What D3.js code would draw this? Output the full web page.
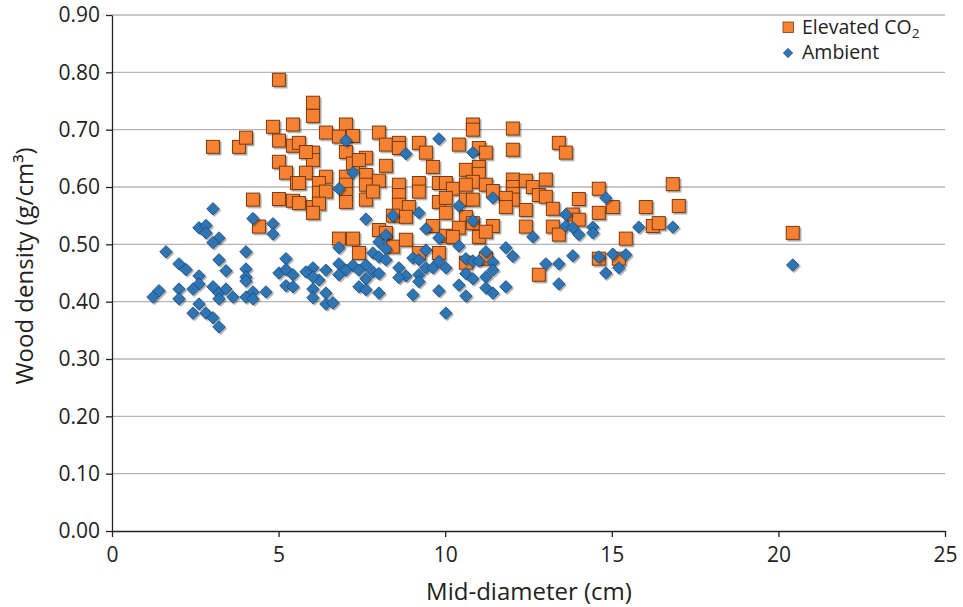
<!DOCTYPE html>
<html>
<head>
<meta charset="utf-8">
<script src="https://cdn.jsdelivr.net/npm/d3@7"></script>
<style>
  body { margin: 0; background: #fff; }
  svg { font-family: "Open Sans", sans-serif; }
</style>
</head>
<body>
<svg id="chart" width="963" height="607"></svg>
<script>
// [mid-diameter (cm), wood density (g/cm3)]
const elevated = [
  [3.03,0.670],[3.81,0.670],[4.02,0.686],[4.83,0.705],[5.01,0.787],[5.43,0.709],[5.01,0.681],[5.43,0.672],
  [5.01,0.644],[5.22,0.625],[5.55,0.607],[4.23,0.578],[5.01,0.579],[5.43,0.576],[4.41,0.531],[6.03,0.747],
  [6.03,0.724],[6.42,0.695],[7.02,0.709],[6.81,0.688],[7.23,0.689],[8.01,0.695],[8.22,0.674],[8.61,0.677],
  [8.61,0.668],[9.21,0.677],[9.42,0.660],[7.02,0.661],[5.61,0.677],[6.03,0.660],[6.03,0.647],[5.82,0.661],
  [7.23,0.641],[7.62,0.651],[7.41,0.647],[8.22,0.637],[9.63,0.635],[5.82,0.625],[6.42,0.618],[5.61,0.607],
  [6.21,0.607],[6.21,0.590],[7.02,0.618],[7.02,0.604],[7.02,0.588],[7.62,0.621],[7.62,0.604],[7.62,0.578],
  [8.01,0.611],[8.61,0.604],[8.61,0.586],[8.61,0.569],[9.21,0.607],[9.21,0.592],[9.81,0.607],[9.81,0.574],
  [5.61,0.572],[6.03,0.565],[6.42,0.592],[7.83,0.592],[8.91,0.565],[6.21,0.571],[7.02,0.574],[6.03,0.555],
  [8.82,0.548],[8.43,0.550],[8.01,0.525],[8.22,0.520],[6.81,0.510],[7.23,0.510],[7.41,0.485],[8.43,0.496],
  [8.82,0.508],[9.63,0.532],[10.02,0.555],[10.02,0.515],[9.21,0.485],[9.81,0.485],[10.83,0.709],[10.83,0.700],
  [12.03,0.702],[10.41,0.674],[11.01,0.668],[11.22,0.660],[12.03,0.665],[13.41,0.677],[13.62,0.660],[10.62,0.630],
  [11.01,0.635],[11.01,0.623],[10.83,0.609],[10.02,0.607],[10.23,0.597],[10.62,0.604],[11.22,0.604],[12.03,0.613],
  [12.03,0.600],[12.03,0.588],[12.03,0.578],[12.42,0.611],[12.63,0.600],[12.81,0.586],[13.02,0.613],[13.02,0.583],
  [11.43,0.593],[11.82,0.581],[11.82,0.565],[10.62,0.578],[10.83,0.578],[10.02,0.581],[10.62,0.548],[10.83,0.537],
  [10.41,0.529],[11.43,0.532],[12.42,0.560],[12.42,0.531],[13.23,0.562],[13.23,0.531],[13.41,0.517],[13.83,0.552],
  [14.01,0.543],[14.01,0.579],[14.61,0.597],[14.61,0.555],[11.01,0.513],[11.22,0.522],[12.81,0.447],[14.61,0.475],
  [10.62,0.468],[15.03,0.565],[16.83,0.605],[16.02,0.565],[17.01,0.567],[16.23,0.532],[16.41,0.537],[15.42,0.510],
  [15.21,0.475],[20.43,0.520],[10.23,0.513],[11.22,0.475]
];

const ambient = [
  [3.03,0.562],[4.23,0.545],[4.83,0.536],[4.83,0.518],[2.61,0.529],[2.82,0.533],[2.82,0.520],[3.21,0.511],
  [3.03,0.503],[1.62,0.487],[4.02,0.487],[3.21,0.473],[5.22,0.475],[2.01,0.466],[2.22,0.456],[3.42,0.454],
  [2.61,0.445],[4.02,0.457],[4.02,0.443],[4.02,0.436],[5.01,0.450],[5.22,0.456],[5.43,0.447],[2.61,0.431],
  [2.43,0.422],[2.01,0.422],[5.22,0.428],[5.43,0.426],[1.41,0.419],[1.23,0.408],[2.01,0.405],[3.03,0.426],
  [3.21,0.415],[3.42,0.422],[3.21,0.405],[3.63,0.408],[4.02,0.408],[4.23,0.417],[4.23,0.405],[4.62,0.417],
  [2.61,0.396],[2.43,0.380],[2.82,0.380],[3.03,0.372],[3.21,0.356],
  [7.02,0.681],[7.23,0.625],[6.81,0.597],[8.82,0.658],[9.81,0.684],
  [7.62,0.544],[8.43,0.550],[9.21,0.555],[9.42,0.527],[9.81,0.511],[8.22,0.516],[8.01,0.504],[8.22,0.492],
  [6.81,0.494],[7.83,0.485],[8.01,0.478],[8.22,0.473],[7.62,0.464],[7.23,0.463],[6.81,0.466],[7.02,0.455],
  [6.81,0.447],[7.41,0.455],[7.83,0.452],[8.01,0.449],[7.62,0.440],[7.41,0.426],[7.62,0.421],[8.01,0.415],
  [6.42,0.455],[6.21,0.438],[6.03,0.459],[5.82,0.452],[6.03,0.443],[6.03,0.422],[6.03,0.407],[6.42,0.415],
  [6.42,0.396],[6.63,0.398],[8.61,0.459],[8.82,0.445],[8.61,0.442],[9.03,0.476],[9.21,0.473],[9.42,0.459],
  [9.21,0.447],[9.21,0.435],[9.63,0.459],[9.81,0.470],[10.02,0.459],[9.03,0.412],[9.81,0.419],[10.02,0.380],
  [9.42,0.490],
  [10.83,0.660],[11.43,0.581],[10.41,0.567],[10.83,0.541],[12.63,0.513],[13.62,0.552],[13.62,0.532],[13.83,0.529],
  [14.01,0.517],[14.43,0.530],[14.43,0.520],[14.82,0.581],
  [10.41,0.497],[10.62,0.475],[10.83,0.471],[11.01,0.471],[11.22,0.487],[11.43,0.469],[11.43,0.455],[10.62,0.449],
  [10.83,0.440],[11.22,0.443],[10.41,0.429],[10.62,0.410],[11.22,0.424],[11.43,0.415],[11.82,0.494],[12.03,0.479],
  [11.82,0.426],[13.02,0.466],[13.41,0.466],[13.41,0.431],[13.83,0.480],[14.61,0.478],[14.82,0.450],
  [15.81,0.530],[16.83,0.530],[15.03,0.483],[15.42,0.482],[15.21,0.459],[20.43,0.464]
];

const xTicks = [0, 5, 10, 15, 20, 25];
const yTicks = [0, 0.1, 0.2, 0.3, 0.4, 0.5, 0.6, 0.7, 0.8, 0.9];
// legend names: [main text, subscript]
const seriesNames = [["Elevated CO", "2"], ["Ambient", ""]];

const svg = d3.select("#chart");
const width = +svg.attr("width");
const height = +svg.attr("height");

const margin = {top: 15, right: 18, bottom: 76, left: 112};

const x = d3.scaleLinear().domain([0, 25]).range([margin.left, width - margin.right]);
const y = d3.scaleLinear().domain([0, 0.9]).range([height - margin.bottom, margin.top]);

const orange = "#F58231", orangeEdge = "#7a3a10";
const blue = "#2E75B6", blueEdge = "#1d4670";

// marker shadow
const defs = svg.append("defs");
defs.append("filter")
    .attr("id", "shadow")
    .attr("x", "-50%").attr("y", "-50%").attr("width", "200%").attr("height", "200%")
  .append("feDropShadow")
    .attr("dx", 1.5).attr("dy", 1.5)
    .attr("stdDeviation", 0.7)
    .attr("flood-color", "#000")
    .attr("flood-opacity", 0.35);

// gridlines
svg.append("g")
  .selectAll("line")
  .data(yTicks.filter(d => d > 0))
  .join("line")
    .attr("x1", margin.left)
    .attr("x2", width - margin.right)
    .attr("y1", d => y(d))
    .attr("y2", d => y(d))
    .attr("stroke", "#b4b4b4")
    .attr("stroke-width", 1.3);

// axes
const yAxis = svg.append("g")
    .attr("transform", `translate(${margin.left},0)`)
    .call(d3.axisLeft(y).tickValues(yTicks).tickFormat(d3.format(".2f")).tickSize(6).tickSizeOuter(0).tickPadding(6));

const xAxis = svg.append("g")
    .attr("transform", `translate(0,${y(0)})`)
    .call(d3.axisBottom(x).tickValues(xTicks).tickSize(6).tickSizeOuter(0).tickPadding(5));

[yAxis, xAxis].forEach(g => {
  g.select(".domain").attr("stroke", "#222").attr("stroke-width", 1.3);
  g.selectAll(".tick line").attr("stroke", "#222").attr("stroke-width", 1.3);
  g.selectAll(".tick text")
    .attr("fill", "#222")
    .attr("font-size", "21px")
    .attr("font-family", "Open Sans, sans-serif");
});
xAxis.selectAll(".tick text").attr("dy", "0.95em");

// axis titles
svg.append("text")
    .attr("transform", `translate(33,266) rotate(-90)`)
    .attr("text-anchor", "middle")
    .attr("font-size", "24px")
    .attr("fill", "#222")
    .text("Wood density (g/cm\u00B3)");

svg.append("text")
    .attr("x", 529)
    .attr("y", 600)
    .attr("text-anchor", "middle")
    .attr("font-size", "24px")
    .attr("fill", "#222")
    .text("Mid-diameter (cm)");

// points: elevated first, ambient drawn on top
const sq = 13;
svg.append("g")
    .attr("filter", "url(#shadow)")
  .selectAll("rect")
  .data(elevated)
  .join("rect")
    .attr("x", d => x(d[0]) - sq / 2)
    .attr("y", d => y(d[1]) - sq / 2)
    .attr("width", sq)
    .attr("height", sq)
    .attr("fill", orange)
    .attr("stroke", orangeEdge)
    .attr("stroke-width", 1);

const diamond = d3.symbol().type(d3.symbolDiamond2).size(98);
svg.append("g")
    .attr("filter", "url(#shadow)")
  .selectAll("path")
  .data(ambient)
  .join("path")
    .attr("transform", d => `translate(${x(d[0])},${y(d[1])})`)
    .attr("d", diamond)
    .attr("fill", blue)
    .attr("stroke", blueEdge)
    .attr("stroke-width", 0.8);

// legend
const legend = svg.append("g");
legend.append("rect")
    .attr("x", 783).attr("y", 22)
    .attr("width", 10.5).attr("height", 10.5)
    .attr("fill", orange)
    .attr("stroke", orangeEdge)
    .attr("stroke-width", 0.8);
legend.append("path")
    .attr("transform", "translate(788,53)")
    .attr("d", d3.symbol().type(d3.symbolDiamond2).size(58))
    .attr("fill", blue)
    .attr("stroke", blueEdge)
    .attr("stroke-width", 0.6);
const legendText = legend.selectAll("text")
  .data(seriesNames)
  .join("text")
    .attr("x", 802)
    .attr("y", (d, i) => 34 + i * 25)
    .attr("font-size", "19.5px")
    .attr("fill", "#222")
    .text(d => d[0]);
legendText.filter(d => d[1])
  .append("tspan")
    .attr("font-size", "13.5px")
    .attr("dy", 4)
    .text(d => d[1]);
</script>
</body>
</html>
